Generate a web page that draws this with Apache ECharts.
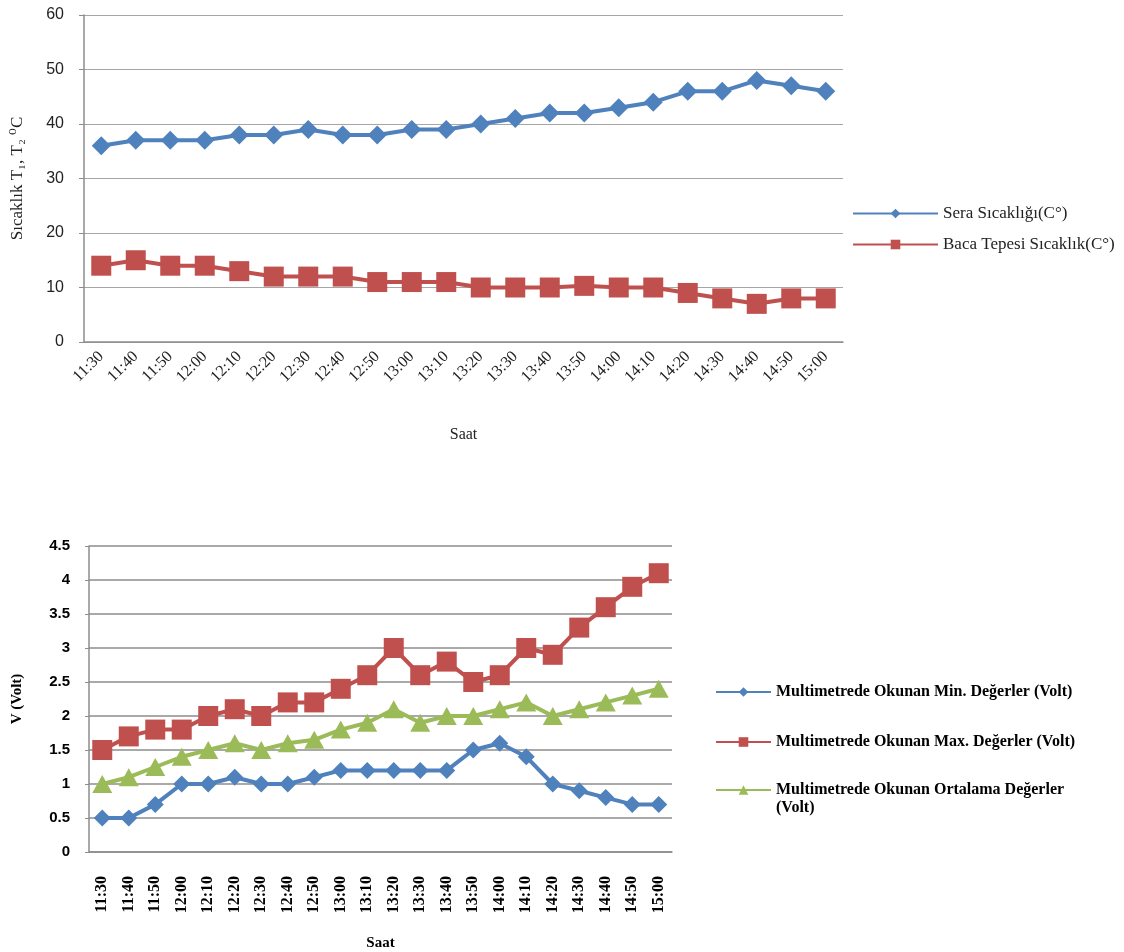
<!DOCTYPE html>
<html>
<head>
<meta charset="utf-8">
<script src="https://cdn.jsdelivr.net/npm/echarts@6/dist/echarts.min.js"></script>
<style>
  html, body { margin: 0; padding: 0; background: #fff; }
  #chart { width: 1124px; height: 952px; }
</style>
</head>
<body>
<div id="chart"></div>
<script>
// Time of each reading (shared by both panels)
const times = ['11:30','11:40','11:50','12:00','12:10','12:20','12:30','12:40','12:50','13:00','13:10',
               '13:20','13:30','13:40','13:50','14:00','14:10','14:20','14:30','14:40','14:50','15:00'];

// Upper panel: temperatures (°C)
const seraSicakligi = [36,37,37,37,38,38,39,38,38,39,39,40,41,42,42,43,44,46,46,48,47,46];
const bacaTepesi    = [14,15,14,14,13,12,12,12,11,11,11,10,10,10,10.3,10,10,9,8,7,8,8];

// Lower panel: multimeter readings (Volt)
const minDegerler   = [0.5,0.5,0.7,1.0,1.0,1.1,1.0,1.0,1.1,1.2,1.2,1.2,1.2,1.2,1.5,1.6,1.4,1.0,0.9,0.8,0.7,0.7];
const maxDegerler   = [1.5,1.7,1.8,1.8,2.0,2.1,2.0,2.2,2.2,2.4,2.6,3.0,2.6,2.8,2.5,2.6,3.0,2.9,3.3,3.6,3.9,4.1];
const ortDegerler   = [1.0,1.1,1.25,1.4,1.5,1.6,1.5,1.6,1.65,1.8,1.9,2.1,1.9,2.0,2.0,2.1,2.2,2.0,2.1,2.2,2.3,2.4];

const names = {
  sera: 'Sera Sıcaklığı(C°)',
  baca: 'Baca Tepesi Sıcaklık(C°)',
  min: 'Multimetrede Okunan Min. Değerler (Volt)',
  max: 'Multimetrede Okunan Max. Değerler (Volt)',
  ort: 'Multimetrede Okunan Ortalama Değerler\n(Volt)'
};

const BLUE = '#4F81BD', RED = '#C0504D', GREEN = '#9BBB59';
const SERIF = '"Liberation Serif", "DejaVu Serif", serif';
const SANS = '"Liberation Sans", Arial, sans-serif';

const chart = echarts.init(document.getElementById('chart'), null, { renderer: 'canvas' });

// One legend block per voltage series so each entry sits at its own height.
// A two-line name gets a blank leading line so the icon lines up with its first line.
const legendBottom = (name, top) => ({
  data: [name],
  orient: 'vertical',
  left: 710,
  top: top,
  itemWidth: 55,
  itemHeight: 12,
  itemGap: 0,
  selectedMode: false,
  formatter: n => (n.indexOf('\n') >= 0 ? ' \n' + n : n),
  textStyle: { fontFamily: SERIF, fontWeight: 'bold', fontSize: 16, color: '#000', lineHeight: 18 }
});

chart.setOption({
  animation: false,
  grid: [
    { left: 84, top: 15, width: 759, height: 327, containLabel: false },
    { left: 89, top: 546, width: 583, height: 309, containLabel: false }
  ],
  legend: [
    {
      data: [names.sera, names.baca],
      orient: 'vertical',
      left: 847,
      top: 200,
      itemWidth: 85,
      itemHeight: 12,
      itemGap: 14,
      selectedMode: false,
      textStyle: { fontFamily: SERIF, fontSize: 17, color: '#222' }
    },
    legendBottom(names.min, 678),
    legendBottom(names.max, 728),
    legendBottom(names.ort, 758)
  ],
  xAxis: [
    {
      gridIndex: 0,
      type: 'category',
      data: times,
      boundaryGap: true,
      name: 'Saat',
      nameLocation: 'middle',
      nameGap: 85,
      nameTextStyle: { fontFamily: SERIF, fontSize: 16, color: '#222' },
      axisLine: { lineStyle: { color: '#8C8C8C', width: 1.5 } },
      axisTick: { show: false },
      axisLabel: { rotate: 45, margin: 12, fontFamily: SERIF, fontSize: 16, color: '#222' }
    },
    {
      gridIndex: 1,
      type: 'category',
      data: times,
      boundaryGap: true,
      name: 'Saat',
      nameLocation: 'middle',
      nameGap: 84,
      nameTextStyle: { fontFamily: SERIF, fontSize: 15, fontWeight: 'bold', color: '#000' },
      axisLine: { lineStyle: { color: '#8C8C8C', width: 1.5 } },
      axisTick: { show: false },
      axisLabel: { rotate: 90, margin: 24, fontFamily: SERIF, fontSize: 16, fontWeight: 'bold', color: '#000' }
    }
  ],
  yAxis: [
    {
      gridIndex: 0,
      type: 'value',
      min: 0, max: 60, interval: 10,
      name: 'Sıcaklık T₁, T₂ ⁰C',
      nameLocation: 'middle',
      nameGap: 58,
      nameTextStyle: { fontFamily: SERIF, fontSize: 17, color: '#222' },
      axisLine: { show: true, lineStyle: { color: '#8C8C8C', width: 1.5 } },
      axisTick: { show: true, length: 5, lineStyle: { color: '#8C8C8C' } },
      splitLine: { lineStyle: { color: '#A6A6A6', width: 1.2 } },
      axisLabel: { margin: 20, fontFamily: SANS, fontSize: 16, color: '#222' }
    },
    {
      gridIndex: 1,
      type: 'value',
      min: 0, max: 4.5, interval: 0.5,
      name: 'V (Volt)',
      nameLocation: 'middle',
      nameGap: 64,
      nameTextStyle: { fontFamily: SERIF, fontSize: 15, fontWeight: 'bold', color: '#000' },
      axisLine: { show: true, lineStyle: { color: '#8C8C8C', width: 1.5 } },
      axisTick: { show: true, length: 4, lineStyle: { color: '#8C8C8C' } },
      splitLine: { lineStyle: { color: '#8C8C8C', width: 1.5 } },
      axisLabel: { margin: 19, fontFamily: SANS, fontSize: 15, fontWeight: 'bold', color: '#000' }
    }
  ],
  series: [
    {
      name: names.sera, type: 'line', xAxisIndex: 0, yAxisIndex: 0, data: seraSicakligi,
      symbol: 'diamond', symbolSize: 19, color: BLUE,
      lineStyle: { width: 4, color: BLUE }, itemStyle: { color: BLUE }
    },
    {
      name: names.baca, type: 'line', xAxisIndex: 0, yAxisIndex: 0, data: bacaTepesi,
      symbol: 'rect', symbolSize: 20, color: RED,
      lineStyle: { width: 4, color: RED }, itemStyle: { color: RED }
    },
    {
      name: names.min, type: 'line', xAxisIndex: 1, yAxisIndex: 1, data: minDegerler,
      symbol: 'diamond', symbolSize: 17, color: BLUE,
      lineStyle: { width: 4, color: BLUE }, itemStyle: { color: BLUE }
    },
    {
      name: names.max, type: 'line', xAxisIndex: 1, yAxisIndex: 1, data: maxDegerler,
      symbol: 'rect', symbolSize: 20, color: RED,
      lineStyle: { width: 4, color: RED }, itemStyle: { color: RED }
    },
    {
      name: names.ort, type: 'line', xAxisIndex: 1, yAxisIndex: 1, data: ortDegerler,
      symbol: 'triangle', symbolSize: [20, 18], color: GREEN,
      lineStyle: { width: 4, color: GREEN }, itemStyle: { color: GREEN }
    }
  ]
});
</script>
</body>
</html>
